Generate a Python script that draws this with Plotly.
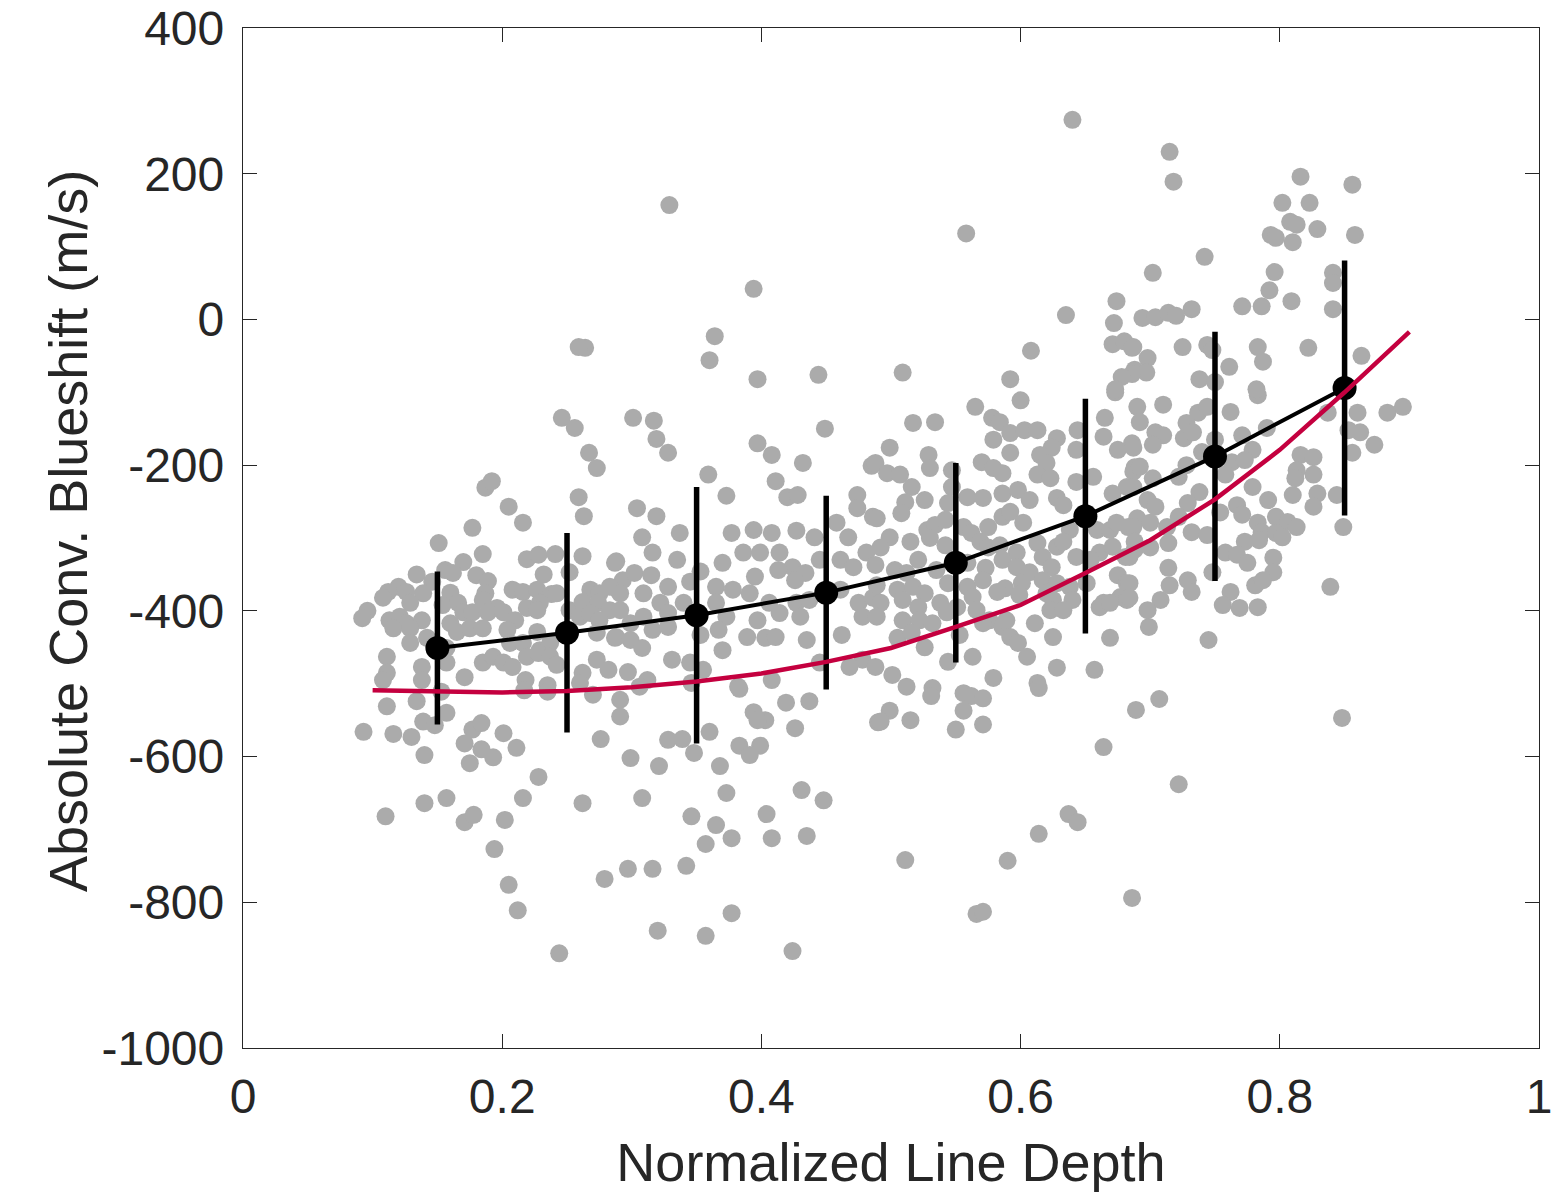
import plotly.graph_objects as go

# ---------------- data ----------------
scatter_x = [
    0.246,0.256,0.267,0.273,0.187,0.192,0.205,0.216,0.259,0.263,0.177,0.151,0.185,0.170,0.219,0.228,0.241,0.262,0.287,0.252,
    0.232,0.156,0.162,0.134,0.146,0.180,0.189,0.120,0.112,0.126,0.139,0.160,0.187,0.208,0.216,0.227,0.238,0.268,0.275,0.289,
    0.096,0.092,0.108,0.129,0.154,0.166,0.185,0.196,0.219,0.229,0.242,0.252,0.262,0.274,0.283,0.113,0.121,0.126,0.138,0.160,
    0.170,0.177,0.189,0.201,0.210,0.227,0.260,0.268,0.275,0.116,0.129,0.142,0.165,0.175,0.185,0.204,0.227,0.129,0.157,0.206,
    0.216,0.229,0.237,0.273,0.287,0.111,0.111,0.138,0.138,0.157,0.171,0.185,0.193,0.201,0.208,0.219,0.228,0.237,0.242,0.218,
    0.235,0.273,0.282,0.262,0.260,
    # zoom 6 region
    0.301,0.317,0.319,0.328,0.359,0.373,0.397,0.408,0.449,0.432,0.411,0.420,0.428,0.485,0.474,0.474,0.304,0.319,0.308,0.337,
    0.316,0.288,0.335,0.370,0.377,0.394,0.408,0.427,0.441,0.458,0.467,0.486,0.386,0.399,0.414,0.424,0.434,0.445,0.461,0.471,
    0.481,0.293,0.302,0.315,0.328,0.345,0.353,0.365,0.378,0.395,0.413,0.426,0.283,0.291,0.309,0.322,0.365,0.391,0.406,0.427,
    0.437,0.461,0.475,0.486,0.291,0.299,0.309,0.328,0.340,0.373,0.397,0.414,0.430,0.478,0.288,0.299,0.308,0.316,0.328,0.353,
    0.367,0.389,0.403,0.411,0.435,0.462,0.370,0.331,0.345,0.297,0.312,0.355,0.382,0.408,0.445,0.478,0.468,
    # zoom 7 region
    0.600,0.673,0.565,0.517,0.534,0.578,0.584,0.579,0.592,0.603,0.613,0.628,0.624,0.592,0.615,0.620,0.644,0.643,0.665,0.664,
    0.675,0.686,0.688,0.499,0.529,0.530,0.488,0.497,0.507,0.516,0.547,0.570,0.579,0.586,0.613,0.623,0.643,0.656,0.547,0.559,
    0.571,0.586,0.598,0.607,0.628,0.633,0.671,0.682,0.687,0.511,0.526,0.544,0.489,0.508,0.528,0.534,0.542,0.556,0.562,0.575,
    0.586,0.592,0.602,0.638,0.659,0.669,0.674,0.683,0.499,0.492,0.515,0.530,0.521,0.542,0.569,0.575,0.584,0.597,0.613,0.617,
    0.628,0.633,0.661,0.671,0.681,0.688,0.488,0.503,0.512,0.535,0.559,0.573,0.586,0.597,0.607,0.624,0.643,0.654,0.675,0.489,
    0.505,0.517,0.526,0.544,0.559,0.571,0.588,0.601,0.617,0.628,0.638,0.651,0.682,0.492,0.509,0.521,0.538,0.551,0.563,0.582,
    0.599,0.620,0.625,0.640,0.664,0.677,0.489,0.509,0.522,0.532,0.543,0.566,0.576,0.586,0.589,0.623,0.633,0.661,0.669,0.682,
    0.505,0.516,0.526,0.553,0.571,0.592,0.598,0.611,0.625,0.669,0.605,0.563,0.544,0.488,0.501,0.579,0.628,0.657,0.613,0.512,
    0.532,
    # zoom 8 region
    0.690,0.710,0.737,0.744,0.762,0.783,0.837,0.860,0.883,0.895,0.692,0.704,0.710,0.728,0.726,0.733,0.750,0.771,0.790,0.853,
    0.862,0.873,0.687,0.702,0.740,0.763,0.779,0.773,0.816,0.826,0.856,0.692,0.728,0.722,0.702,0.813,0.826,0.812,0.687,0.738,
    0.758,0.779,0.810,0.829,0.844,0.791,0.826,0.698,0.704,0.729,0.722,0.754,0.767,0.771,0.690,0.687,0.700,0.713,0.732,0.744,
    0.783,0.786,0.797,0.806,0.813,0.797,0.849,0.688,0.700,0.714,0.773,0.784,0.802,0.684,0.758,0.767,0.775,0.795,0.714,0.748,
    0.795,0.684,0.715,0.729,0.781,0.787,0.839,0.732,0.762,0.708,0.684,0.756,0.769,0.783,0.698,0.699,0.745,
    # upper right (zoom 4)
    0.715,0.718,0.816,0.856,0.802,0.823,0.808,0.813,0.810,0.793,0.797,0.829,0.858,0.742,0.702,0.796,0.792,0.841,0.841,0.809,
    0.732,0.771,0.786,0.841,0.694,0.704,0.714,0.720,0.725,0.744,0.748,0.783,0.787,0.761,0.822,0.863,0.687,0.698,0.688,0.697,
    0.738,0.750,0.782,
    # zoom 3 / 2 / 1 region
    0.640,0.558,0.674,0.672,0.635,0.671,0.680,0.686,0.608,0.509,0.592,0.686,0.678,0.673,
    0.329,0.394,0.364,0.360,0.397,0.444,0.264,0.259,
    # lower left (zoom 9)
    0.108,0.111,0.134,0.153,0.139,0.148,0.157,0.093,0.116,0.130,0.140,0.177,0.184,0.171,0.184,0.193,0.175,0.201,0.211,0.228,
    0.217,0.235,0.270,0.276,0.291,0.291,0.110,0.140,0.157,0.171,0.178,0.202,0.216,0.262,0.194,0.205,0.212,0.244,0.279,
    # lower middle (zoom 10)
    0.306,0.346,0.383,0.419,0.437,0.394,0.403,0.397,0.426,0.360,0.328,0.339,0.348,0.383,0.399,0.391,0.368,0.299,0.321,0.308,
    0.373,0.346,0.365,0.357,0.377,0.404,0.408,0.431,0.448,0.435,0.297,0.316,0.342,0.320,0.357,0.377,0.424,0.490,
    # lower right (zoom 11 / 12)
    0.531,0.556,0.562,0.571,0.556,0.614,0.499,0.492,0.515,0.550,0.571,0.689,0.664,0.637,0.644,0.614,0.511,0.590,0.566,0.571,
    0.686,0.707,0.848,0.722,
]

scatter_y = [
    -135,-149,-183,-204,-231,-222,-257,-279,-244,-270,-286,-307,-322,-333,-329,-323,-322,-325,-334,-347,
    -350,-344,-348,-350,-360,-351,-359,-367,-374,-374,-376,-375,-376,-371,-374,-371,-377,-371,-376,-371,
    -400,-410,-382,-389,-392,-389,-385,-396,-396,-389,-376,-399,-388,-389,-399,-413,-408,-417,-413,-417,
    -402,-402,-402,-402,-413,-399,-408,-403,-413,-424,-424,-437,-429,-424,-424,-426,-429,-444,-451,-444,
    -444,-454,-444,-430,-437,-463,-485,-477,-495,-471,-491,-471,-463,-471,-477,-463,-458,-463,-474,-495,
    -502,-467,-481,-485,-499,
    # zoom 6 region
    -135,-139,-164,-183,-213,-242,-170,-186,-150,-197,-222,-244,-241,-201,-241,-259,-259,-270,-299,-293,
    -320,-332,-330,-334,-293,-289,-293,-290,-299,-279,-299,-271,-320,-320,-320,-340,-348,-330,-330,-340,
    -320,-358,-348,-351,-367,-360,-346,-367,-371,-353,-344,-358,-367,-376,-376,-389,-389,-376,-389,-389,
    -385,-371,-389,-382,-399,-417,-408,-403,-389,-408,-413,-403,-408,-408,-436,-440,-451,-426,-422,-433,
    -426,-436,-437,-436,-440,-433,-454,-467,-471,-484,-495,-481,-504,-495,-471,-467,-477,
    # zoom 7 region
    -111,-100,-120,-142,-141,-135,-141,-165,-156,-152,-152,-163,-176,-183,-186,-197,-152,-179,-135,-161,
    -179,-170,-203,-176,-186,-204,-197,-211,-213,-230,-207,-196,-204,-211,-213,-218,-223,-216,-230,-244,
    -245,-239,-234,-248,-245,-255,-239,-230,-209,-251,-248,-252,-273,-266,-289,-282,-275,-285,-293,-285,
    -271,-264,-279,-289,-289,-289,-279,-285,-299,-313,-305,-300,-330,-310,-305,-313,-310,-320,-307,-326,
    -312,-305,-320,-312,-326,-316,-337,-344,-348,-344,-334,-341,-330,-340,-347,-340,-326,-330,-351,-365,
    -371,-367,-376,-362,-367,-358,-369,-362,-358,-362,-367,-362,-362,-389,-385,-395,-389,-395,-381,-374,
    -378,-376,-385,-385,-389,-381,-408,-413,-413,-417,-402,-399,-413,-422,-413,-399,-399,-395,-389,-385,
    -437,-430,-450,-433,-417,-436,-444,-417,-436,-437,-463,-463,-470,-477,-488,-492,-478,-481,-499,-504,
    -506,
    # zoom 8 region
    -120,-117,-128,-120,-127,-104,-128,-128,-128,-120,-141,-155,-159,-142,-163,-155,-165,-159,-149,-152,
    -155,-172,-176,-172,-182,-196,-179,-193,-186,-189,-183,-202,-200,-216,-218,-207,-213,-218,-230,-237,
    -213,-230,-241,-239,-241,-248,-257,-248,-257,-252,-271,-265,-255,-268,-273,-285,-279,-285,-292,-296,
    -279,-292,-271,-278,-285,-293,-285,-305,-313,-307,-305,-303,-299,-326,-320,-323,-334,-327,-341,-347,
    -347,-362,-365,-358,-365,-358,-367,-374,-374,-385,-382,-392,-396,-395,-399,-422,-440,
    # upper right (zoom 4)
    230,189,196,185,160,160,134,130,106,116,112,124,116,86,64,65,40,64,50,25,
    14,18,18,14,2,3,9,5,-38,-35,-42,-38,-58,-65,-39,-50,-38,-53,-69,-73,
    -82,-86,-96,
    # zoom 3 / 2 / 1 region
    274,118,25,-5,6,-34,-30,-39,-43,-73,-82,-75,-79,-96,
    157,42,-23,-56,-82,-76,-39,-38,
    # lower left (zoom 9)
    -495,-531,-524,-511,-552,-557,-540,-566,-569,-573,-598,-563,-554,-582,-590,-601,-609,-568,-588,-628,
    -509,-511,-515,-576,-522,-545,-682,-664,-657,-690,-680,-687,-657,-664,-727,-776,-811,-870,-768,
    # lower middle (zoom 10)
    -504,-499,-507,-526,-524,-539,-550,-550,-561,-566,-577,-576,-595,-585,-585,-598,-613,-602,-613,-657,
    -650,-682,-694,-720,-712,-679,-712,-646,-660,-709,-754,-754,-750,-839,-846,-815,-867,-553,
    # lower right (zoom 11 / 12)
    -517,-513,-517,-520,-537,-506,-537,-552,-550,-563,-556,-536,-587,-679,-690,-706,-742,-743,-816,-813,
    -794,-521,-547,-638,
]

bin_x = [0.15, 0.25, 0.35, 0.45, 0.55, 0.65, 0.75, 0.85]
bin_mean = [-451, -430, -406, -375, -334, -270, -188, -94]
bin_err = [105, 137, 176, 133, 137, 161, 171, 175]

model_x = [0.10, 0.15, 0.20, 0.25, 0.30, 0.35, 0.40, 0.45, 0.50, 0.55, 0.60, 0.65, 0.70, 0.75, 0.80, 0.85, 0.90]
model_y = [-509, -511, -512, -510, -505, -497, -486, -470, -451, -422, -392, -348, -303, -247, -179, -100, -17]

x_tick_vals = [0, 0.2, 0.4, 0.6, 0.8, 1]
x_tick_text = ["0", "0.2", "0.4", "0.6", "0.8", "1"]
y_tick_vals = [-1000, -800, -600, -400, -200, 0, 200, 400]
y_tick_text = ["-1000", "-800", "-600", "-400", "-200", "0", "200", "400"]

x_title = "Normalized Line Depth"
y_title = "Absolute Conv. Blueshift (m/s)"

# ---------------- figure ----------------
INK = "#262626"
FONT = "Liberation Sans, Arial, Helvetica, sans-serif"

fig = go.Figure()
fig.add_trace(go.Scatter(
    x=scatter_x, y=scatter_y, mode="markers",
    marker=dict(size=18, color="#ABABAB", line=dict(width=0)),
    hoverinfo="skip", cliponaxis=False))
fig.add_trace(go.Scatter(
    x=bin_x, y=bin_mean, mode="lines+markers",
    line=dict(color="black", width=4),
    marker=dict(size=24, color="black"),
    error_y=dict(type="data", array=bin_err, visible=True, color="black", thickness=5.5, width=0)))
fig.add_trace(go.Scatter(
    x=model_x, y=model_y, mode="lines",
    line=dict(color="#C4003F", width=4.5)))

axis_common = dict(
    showgrid=False, zeroline=False, showline=True, linecolor=INK, linewidth=1.3,
    mirror="allticks", ticks="inside", ticklen=14, tickwidth=1.3, tickcolor=INK,
    tickfont=dict(size=48, color=INK, family=FONT), ticklabeloverflow="allow",
)
fig.update_xaxes(range=[-0.00001, 1.00001], tickvals=x_tick_vals, ticktext=x_tick_text,
                 ticklabelstandoff=6,
                 title=dict(text=x_title, font=dict(size=54, color=INK, family=FONT), standoff=24),
                 **axis_common)
fig.update_yaxes(range=[-1000.01, 400.01], tickvals=y_tick_vals, ticktext=y_tick_text,
                 ticklabelstandoff=8,
                 **axis_common)
fig.add_annotation(
    text=y_title, textangle=-90, showarrow=False,
    xref="paper", yref="paper", x=0, y=0.5, xanchor="center", yanchor="middle",
    xshift=-175, yshift=7,
    font=dict(size=54, color=INK, family=FONT))
fig.update_layout(
    width=1551, height=1192,
    margin=dict(l=243, r=12, t=28, b=144, autoexpand=False),
    plot_bgcolor="white", paper_bgcolor="white",
    showlegend=False,
    font=dict(family=FONT, color=INK),
)
fig.write_html("out.html")
